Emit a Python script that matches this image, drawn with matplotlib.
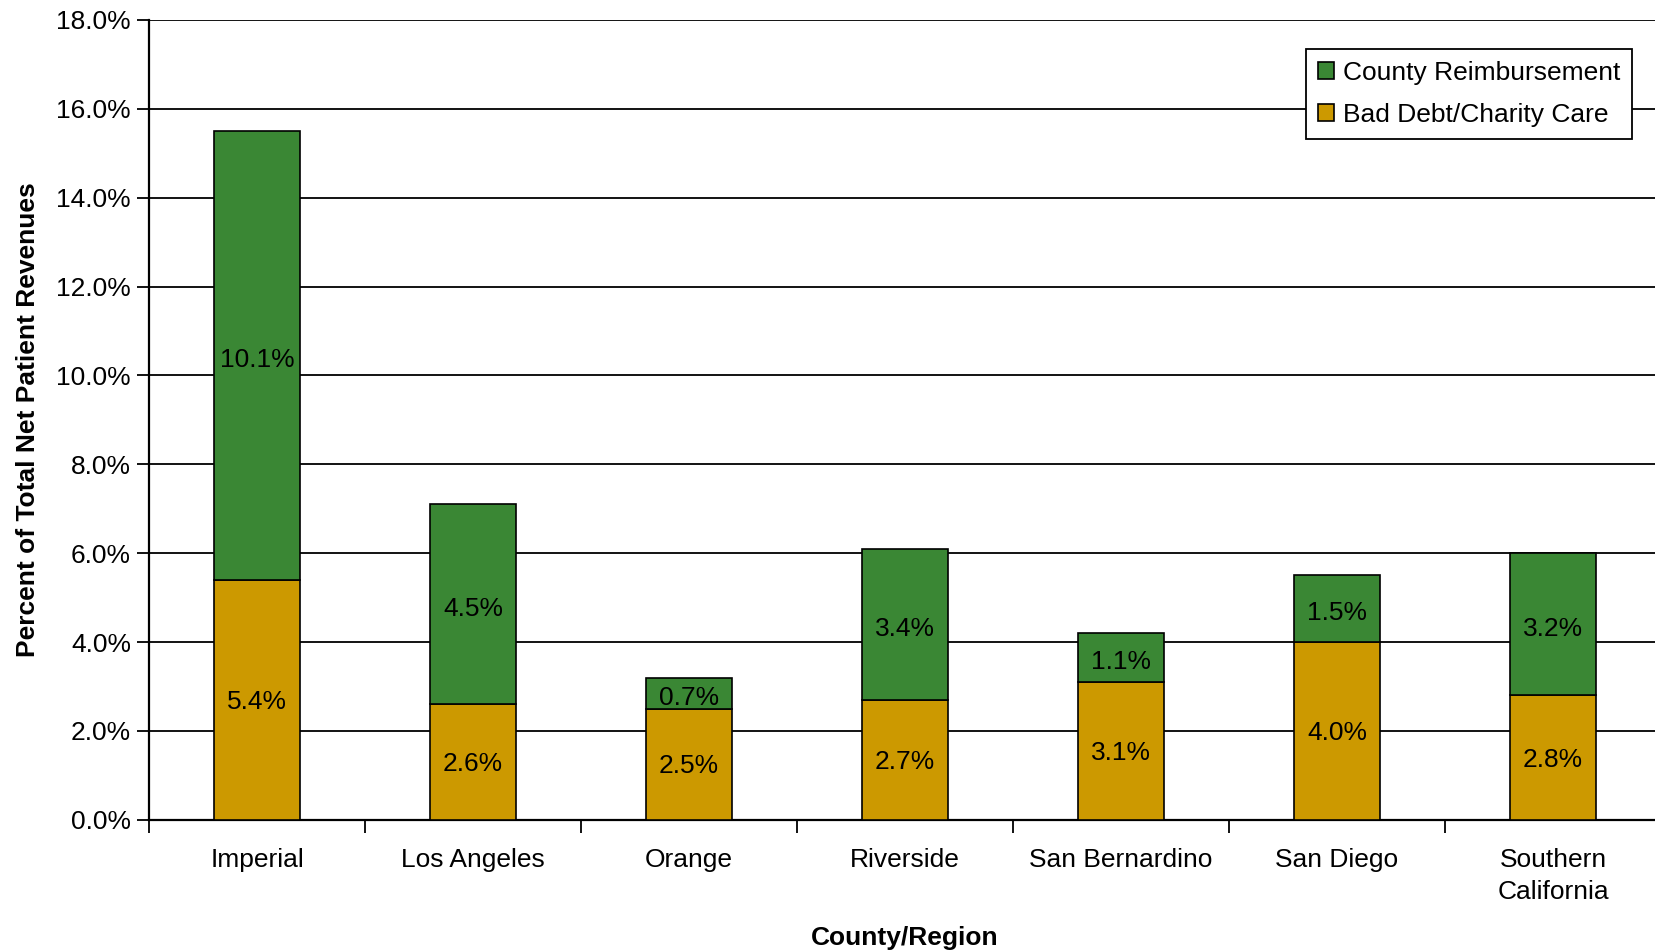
import numpy as np
import matplotlib.pyplot as plt
from matplotlib.ticker import FuncFormatter, FixedLocator

plt.rcParams["font.family"] = ["Liberation Sans", "DejaVu Sans"]

categories = ["Imperial", "Los Angeles", "Orange", "Riverside",
              "San Bernardino", "San Diego", "Southern\nCalifornia"]
bad_debt = [5.4, 2.6, 2.5, 2.7, 3.1, 4.0, 2.8]
county_reimb = [10.1, 4.5, 0.7, 3.4, 1.1, 1.5, 3.2]

GREEN = "#3A8734"
GOLD = "#CC9900"
FS = 19

fig = plt.figure(figsize=(16.56, 9.51), dpi=100)
ax = fig.add_axes([0.09, 0.138, 0.913, 0.841])

x = np.arange(len(categories))
width = 0.4

b1 = ax.bar(x, bad_debt, width, color=GOLD, edgecolor="black", linewidth=1.2,
            label="Bad Debt/Charity Care", zorder=3)
b2 = ax.bar(x, county_reimb, width, bottom=bad_debt, color=GREEN, edgecolor="black",
            linewidth=1.2, label="County Reimbursement", zorder=3)

# 數值標籤放在每段中間
for i in range(len(categories)):
    ax.text(x[i], bad_debt[i] / 2 - 0.05, f"{bad_debt[i]:.1f}%", ha="center", va="center",
            fontsize=FS, zorder=4)
    ax.text(x[i], bad_debt[i] + county_reimb[i] / 2 - 0.1, f"{county_reimb[i]:.1f}%",
            ha="center", va="center", fontsize=FS, zorder=4)

ax.set_xlim(-0.5, len(categories) - 0.5)
ax.set_ylim(0, 18)
ax.set_yticks(np.arange(0, 18.1, 2))
ax.yaxis.set_major_formatter(FuncFormatter(lambda v, p: f"{v:.1f}%"))
ax.grid(axis="y", color="black", linewidth=1.3, zorder=0)

ax.set_xticks(x)
ax.set_xticklabels(categories, fontsize=FS, linespacing=1.45)
ax.xaxis.set_minor_locator(FixedLocator(np.arange(-0.5, len(categories), 1)))
ax.tick_params(axis="x", which="major", length=0, pad=20)
ax.tick_params(axis="x", which="minor", length=9, width=1.3, direction="out")
ax.tick_params(axis="y", labelsize=FS, length=9, width=1.3, direction="out", pad=4)

for side in ["top", "right"]:
    ax.spines[side].set_visible(False)
ax.spines["left"].set_linewidth(1.6)
ax.spines["bottom"].set_linewidth(1.6)

ax.set_xlabel("County/Region", fontsize=FS, fontweight="bold", labelpad=16)
ax.set_ylabel("Percent of Total Net Patient Revenues", fontsize=FS, fontweight="bold",
              labelpad=12)

handles = [b2, b1]
leg = ax.legend(handles, [h.get_label() for h in handles], loc="upper right",
                bbox_to_anchor=(0.981, 0.964), fontsize=FS, frameon=True, fancybox=False,
                handlelength=0.6, handleheight=0.6, handletextpad=0.35,
                borderpad=0.45, labelspacing=0.7, borderaxespad=0)
leg.get_frame().set_edgecolor("black")
leg.get_frame().set_linewidth(1.3)
leg.get_frame().set_alpha(1)

fig.savefig("out.png", dpi=100)
